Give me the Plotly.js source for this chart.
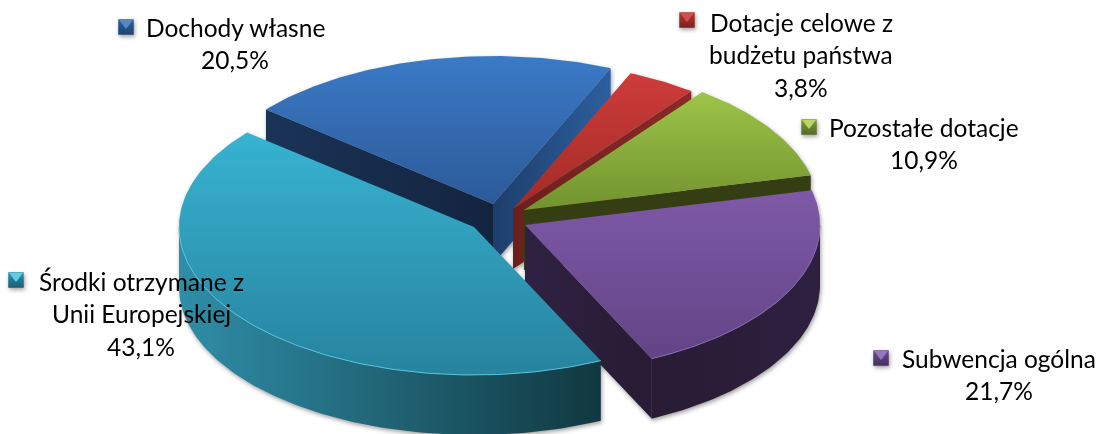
<!DOCTYPE html>
<html lang="pl">
<head>
<meta charset="utf-8">
<script src="https://cdn.plot.ly/plotly-3.0.1.min.js"></script>
<style>
html,body{margin:0;padding:0;background:#fff}
#chart{width:1106px;height:434px}
.scatterlayer{filter:drop-shadow(1px 2px 2px rgba(0,0,0,.38))}
</style>
</head>
<body>
<div id="chart"></div>
<script>
// ---- data ----
const categories = ["Dochody własne", "Dotacje celowe z budżetu państwa", "Pozostałe dotacje", "Subwencja ogólna", "Środki otrzymane z Unii Europejskiej"];
const values = [20.5, 3.8, 10.9, 21.7, 43.1];
const labelLines = [["Dochody własne"], ["Dotacje celowe z", "budżetu państwa"], ["Pozostałe dotacje"], ["Subwencja ogólna"], ["Środki otrzymane z", "Unii Europejskiej"]];

// ---- projection of the tilted pie (plot units are pixels of the 1106x434 frame) ----
const startAngle = -50.3, rx = 295, ry = 148, depth = 60;
const sliceCentreX = [493, 513, 524, 525, 474];
const sliceCentreY = [204, 209, 210, 225, 227];

// ---- styles ----
const topColours = [["#2c5a97", "#3b7ac7"], ["#a32b27", "#cd3c39"], ["#72932e", "#9dc448"], ["#634486", "#7e59a7"], ["#27839e", "#37b3d2"]];
const startWall = [["#1a3357", "#13243f"], null, null, null, null];
const endWall = [["#1d3e6c", "#2c5f9e"], ["#6c1f1b", "#8a2a27"], ["#343e12", "#343e12"], ["#2f2142", "#281b33"], null];
const arcWall = [null, null, null, ["#281b33", "#2e2040"], ["#2f8ea8", "#113840"]];
const arcEdge = [null, null, null, "#8a67b3", "#55c4de"];
const keyColours = [["#2e5f9b", "#1e4270", "#5688c6"], ["#b23633", "#7a2220", "#d4504d"], ["#7f9c39", "#55692a", "#b9d766"], ["#6a4a8f", "#46305f", "#9478bb"], ["#2a93ae", "#1a5f73", "#5fcbe6"]];
const keyX = [126, 687, 809, 881, 16];
const keyY = [27, 20, 127, 358, 280];
const labelCentreX = [235, 801, 924, 999, 141];
const labelFirstY = [27, 22, 127, 358, 281];
const lineGap = 32.7;
const inkColour = "#000000";

// ---- geometry from the values ----
const rad = d => d * Math.PI / 180;
const total = values.reduce((a, b) => a + b, 0);
function arc(i, from, to) {
  const n = Math.max(2, Math.ceil(Math.abs(to - from)));
  const xs = [], ys = [];
  for (let k = 0; k <= n; k++) {
    const a = rad(from + (to - from) * k / n);
    xs.push(sliceCentreX[i] + rx * Math.sin(a));
    ys.push(sliceCentreY[i] - ry * Math.cos(a));
  }
  return {xs, ys};
}
function filled(name, xs, ys, colours, type) {
  return {
    type: "scatter", mode: "lines", name, x: xs, y: ys, fill: "toself",
    line: {width: 0, color: colours[0]},
    fillcolor: colours[0],
    fillgradient: {type, colorscale: [[0, colours[0]], [1, colours[1]]]},
    hoverinfo: "skip", showlegend: false
  };
}
function edgeWall(i, angle, colours) {
  const p = arc(i, angle, angle);
  const x0 = sliceCentreX[i], y0 = sliceCentreY[i], x1 = p.xs[0], y1 = p.ys[0];
  return filled(categories[i] + " ściana", [x0, x1, x1, x0, x0], [y0, y1, y1 + depth, y0 + depth, y0], colours, "horizontal");
}

const traces = [];
let cursor = startAngle;
values.forEach((v, i) => {
  const from = cursor, to = cursor + v / total * 360;
  cursor = to;
  if (startWall[i]) traces.push(edgeWall(i, from, startWall[i]));
  if (endWall[i]) traces.push(edgeWall(i, to, endWall[i]));
  if (arcWall[i]) {
    const a0 = Math.max(from, 90), a1 = Math.min(to, 270);
    const p = arc(i, a0, a1);
    const xs = p.xs.concat(p.xs.slice().reverse());
    const ys = p.ys.concat(p.ys.slice().reverse().map(y => y + depth));
    traces.push(filled(categories[i] + " bok", xs.concat(xs[0]), ys.concat(ys[0]), arcWall[i], "horizontal"));
  }
  const p = arc(i, from, to);
  const xs = [sliceCentreX[i]].concat(p.xs, sliceCentreX[i]);
  const ys = [sliceCentreY[i]].concat(p.ys, sliceCentreY[i]);
  traces.push(filled(categories[i], xs, ys, topColours[i], "vertical"));
  if (arcEdge[i]) {
    const e = arc(i, Math.max(from, 90), Math.min(to, 270));
    traces.push({type: "scatter", mode: "lines", x: e.xs, y: e.ys, line: {width: 1, color: arcEdge[i]}, hoverinfo: "skip", showlegend: false});
  }
});

// legend keys and labels
const annotations = [];
values.forEach((v, i) => {
  traces.push({type: "scatter", mode: "markers", x: [keyX[i]], y: [keyY[i]], hoverinfo: "skip", showlegend: false,
    marker: {symbol: "square", size: 15.5, color: keyColours[i][0], gradient: {type: "vertical", color: keyColours[i][1]}, line: {width: 0}}});
  traces.push({type: "scatter", mode: "markers", x: [keyX[i]], y: [keyY[i] - 4], hoverinfo: "skip", showlegend: false,
    marker: {symbol: "triangle-down", size: 12, color: keyColours[i][2], line: {width: 0}}});
  const rows = labelLines[i].concat(v.toFixed(1).replace(".", ",") + "%");
  rows.forEach((t, r) => annotations.push({
    x: labelCentreX[i],
    y: labelFirstY[i] + r * lineGap,
    xref: "x", yref: "y", text: t, showarrow: false, xanchor: "center", yanchor: "middle",
    font: {family: "Lato, 'Open Sans', sans-serif", size: 24.5, color: inkColour}
  }));
});

Plotly.newPlot("chart", traces, {
  width: 1106, height: 434, margin: {l: 0, r: 0, t: 0, b: 0},
  paper_bgcolor: "#ffffff", plot_bgcolor: "#ffffff", showlegend: false,
  xaxis: {range: [0, 1106], visible: false, fixedrange: true},
  yaxis: {range: [434, 0], visible: false, fixedrange: true},
  annotations
}, {displayModeBar: false, staticPlot: true});
</script>
</body>
</html>
